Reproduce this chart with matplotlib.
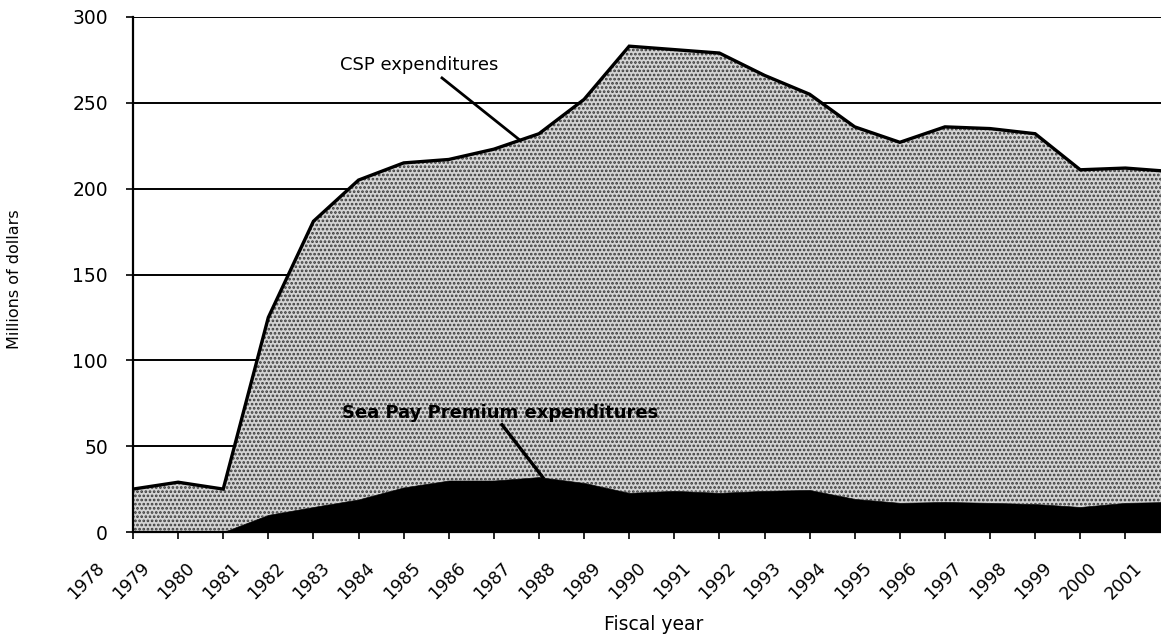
import numpy as np
import matplotlib
matplotlib.use("Agg")
import matplotlib.pyplot as plt
from matplotlib.transforms import ScaledTranslation

# ---- data (millions of dollars) ----
years = [str(y) for y in range(1978, 2002)]
csp_expenditures = [25, 29, 25, 125, 181, 205, 215, 217, 223, 232, 252, 283,
                    281, 279, 266, 255, 236, 227, 236, 235, 232, 211, 212, 210]
sea_pay_premium = [0, 0, 0, 10, 14.6, 19, 26, 30, 30, 32, 28.6, 22.8,
                   24, 22.8, 24, 24.5, 19.3, 17, 17.5, 17, 16.3, 14.6, 17, 17.5]
y_ticks = [0, 50, 100, 150, 200, 250, 300]

plt.rcParams['font.family'] = ['DejaVu Sans']
plt.rcParams['hatch.linewidth'] = 1.3

fig = plt.figure(figsize=(11.61, 6.40), dpi=100)
W, H = 1161, 640
ax_left, ax_right = 133, 1161
ax_bottom, ax_top = 532, 17
ax = fig.add_axes([ax_left / W, (H - ax_bottom) / H,
                   (ax_right - ax_left) / W, (ax_bottom - ax_top) / H])

x = np.arange(len(csp_expenditures))
csp = np.array(csp_expenditures, dtype=float)
sea = np.array(sea_pay_premium, dtype=float)

ax.set_xlim(0, 22.79)
ax.set_ylim(0, 300)

# grid lines
ax.set_axisbelow(True)
ax.yaxis.grid(True, color='black', linewidth=1.4)
ax.xaxis.grid(False)

# stippled CSP area and black sea pay area
ax.fill_between(x, sea, csp, facecolor='#d4d4d4', edgecolor='#3a3a3a',
                hatch='....', linewidth=0, zorder=2)
ax.fill_between(x, 0, sea, facecolor='black', edgecolor='black',
                linewidth=0.5, zorder=3)
ax.plot(x, csp, color='black', linewidth=2.4, zorder=4, solid_joinstyle='miter')

# spines
for s in ['top', 'right']:
    ax.spines[s].set_visible(False)
ax.spines['left'].set_linewidth(1.6)
ax.spines['bottom'].set_linewidth(1.6)
ax.spines['left'].set_zorder(5)
ax.spines['bottom'].set_zorder(5)

# ticks
ax.set_yticks(y_ticks)
ax.set_yticklabels([str(v) for v in y_ticks], fontsize=13.5)
ax.tick_params(axis='y', length=5, width=1.2, pad=13, direction='out')
ax.set_xticks(x[:23])
ax.set_xticklabels([])
ax.tick_params(axis='x', length=5, width=1.2, direction='out')

# rotated year labels (as positioned in the original)
trans = ax.get_xaxis_transform() + ScaledTranslation(0, -27 / 100, fig.dpi_scale_trans)
for i, yr in enumerate(years):
    ax.text(i - 1 + 0.444, 0, yr, transform=trans, rotation=45,
            ha='right', va='top', fontsize=12.5, clip_on=False)

ax.set_ylabel('Millions of dollars', fontsize=11.5)
ax.yaxis.set_label_coords(-0.108, 0.49)
fig.text(654 / W, 1 - 624 / H, 'Fiscal year', ha='center', va='center', fontsize=13.5)

# annotations
ax.text(4.59, 269, 'CSP expenditures', fontsize=13, ha='left', va='baseline', zorder=6)
x_end_csp = 8.58
ax.plot([6.85, x_end_csp], [264.5, np.interp(x_end_csp, x, csp)], color='black',
        linewidth=2.0, zorder=6)

ax.text(4.63, 66.4, 'Sea Pay Premium expenditures', fontsize=13, fontweight='bold',
        ha='left', va='baseline', zorder=6)
x_end_sea = 9.09
ax.plot([8.18, x_end_sea], [62.5, np.interp(x_end_sea, x, sea)], color='black',
        linewidth=2.4, zorder=6)

fig.savefig('out.png', dpi=100)
